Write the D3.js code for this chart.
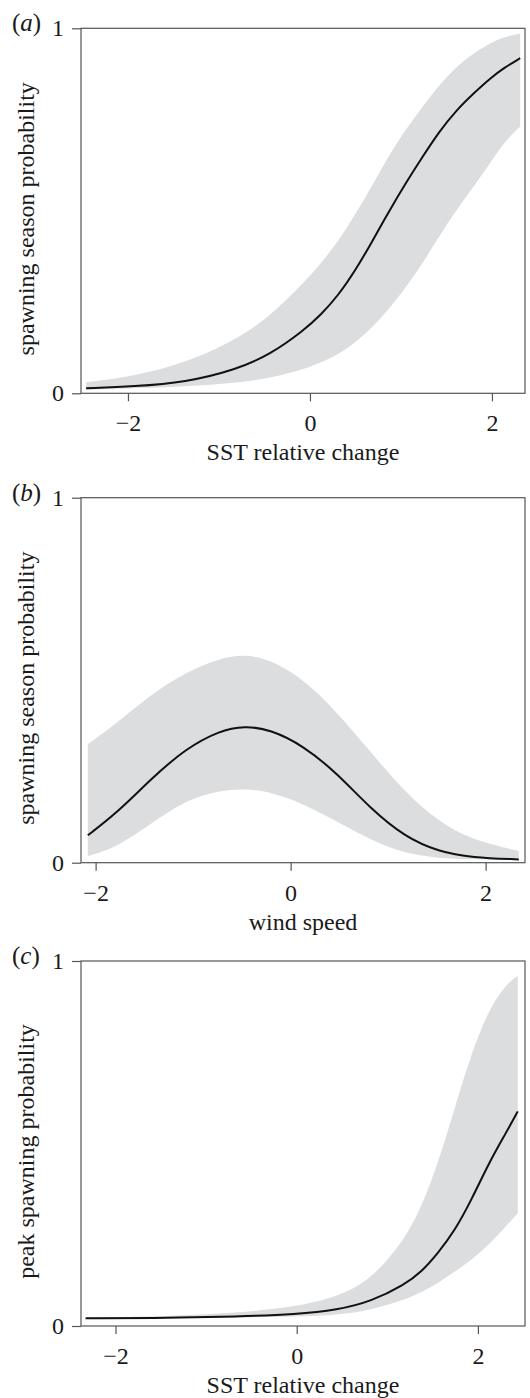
<!DOCTYPE html>
<html>
<head>
<meta charset="utf-8">
<script src="https://cdn.jsdelivr.net/npm/d3@7"></script>
<style>
  body { margin: 0; background: #fff; }
  svg text { font-family: "Liberation Serif", "Times New Roman", serif; fill: #1a1a1a; }
</style>
</head>
<body>
<svg id="chart" width="530" height="1398"></svg>
<script>
// Panel (a): spawning season probability vs SST relative change
var sstX = [-2.46, -1.93, -1.37, -0.81, -0.44, -0.07, 0.12, 0.31, 0.49, 0.68, 0.86, 1.05, 1.24, 1.42, 1.61, 1.80, 1.98, 2.14, 2.31];
var sstMean = [0.014, 0.019, 0.030, 0.065, 0.106, 0.172, 0.215, 0.268, 0.333, 0.414, 0.495, 0.575, 0.649, 0.717, 0.776, 0.822, 0.863, 0.893, 0.918];
var sstUpper = [0.030, 0.047, 0.083, 0.147, 0.211, 0.302, 0.356, 0.416, 0.487, 0.567, 0.649, 0.722, 0.786, 0.845, 0.895, 0.932, 0.959, 0.977, 0.986];
var sstLower = [0.010, 0.013, 0.019, 0.028, 0.042, 0.065, 0.085, 0.106, 0.138, 0.179, 0.229, 0.288, 0.357, 0.430, 0.503, 0.567, 0.630, 0.690, 0.731];

// Panel (b): spawning season probability vs wind speed
var windX = [-2.08, -1.77, -1.43, -1.08, -0.73, -0.47, -0.21, 0.13, 0.48, 0.82, 1.17, 1.52, 1.86, 2.34];
var windMean = [0.075, 0.139, 0.230, 0.312, 0.362, 0.375, 0.365, 0.321, 0.244, 0.148, 0.071, 0.030, 0.014, 0.009];
var windUpper = [0.325, 0.385, 0.462, 0.521, 0.560, 0.571, 0.557, 0.503, 0.412, 0.303, 0.194, 0.112, 0.062, 0.032];
var windLower = [0.018, 0.044, 0.107, 0.171, 0.198, 0.203, 0.194, 0.162, 0.112, 0.062, 0.025, 0.012, 0.009, 0.007];

// Panel (c): peak spawning probability vs SST relative change
var peakX = [-2.33, -1.41, -0.67, 0.00, 0.45, 0.82, 1.19, 1.38, 1.56, 1.75, 1.93, 2.12, 2.31, 2.44];
var peakMean = [0.021, 0.022, 0.026, 0.032, 0.044, 0.067, 0.113, 0.149, 0.200, 0.263, 0.346, 0.446, 0.529, 0.588];
var peakUpper = [0.023, 0.027, 0.035, 0.053, 0.080, 0.126, 0.236, 0.328, 0.446, 0.602, 0.748, 0.867, 0.936, 0.959];
var peakLower = [0.020, 0.021, 0.023, 0.026, 0.030, 0.044, 0.071, 0.094, 0.117, 0.150, 0.181, 0.222, 0.273, 0.309];

var xTicks = [-2, 0, 2];
var yTicks = [0, 1];
var panelLetters = ["a", "b", "c"];
var xTitles = ["SST relative change", "wind speed", "SST relative change"];
var yTitles = ["spawning season probability", "spawning season probability", "peak spawning probability"];

var panels = [
  { x: sstX, mean: sstMean, upper: sstUpper, lower: sstLower, domain: [-2.516, 2.363], top: 28.3 },
  { x: windX, mean: windMean, upper: windUpper, lower: windLower, domain: [-2.15, 2.404], top: 497.7 },
  { x: peakX, mean: peakMean, upper: peakUpper, lower: peakLower, domain: [-2.381, 2.52], top: 961 }
];

var left = 81, right = 525, plotH = 365;
var svg = d3.select("#chart");

panels.forEach(function(p, i) {
  var x = d3.scaleLinear().domain(p.domain).range([left, right]);
  var y = d3.scaleLinear().domain([0, 1]).range([p.top + plotH, p.top]);
  var pts = p.x.map(function(v, j) { return { x: v, m: p.mean[j], u: p.upper[j], l: p.lower[j] }; });

  var g = svg.append("g");

  // confidence band
  g.append("path")
    .datum(pts)
    .attr("fill", "#dcdddf")
    .attr("d", d3.area()
      .curve(d3.curveBasis)
      .x(d => x(d.x))
      .y0(d => y(d.l))
      .y1(d => y(d.u)));

  // fitted curve
  g.append("path")
    .datum(pts)
    .attr("fill", "none")
    .attr("stroke", "#111")
    .attr("stroke-width", 2)
    .attr("d", d3.line()
      .curve(d3.curveBasis)
      .x(d => x(d.x))
      .y(d => y(d.m)));

  // box
  g.append("rect")
    .attr("x", left).attr("y", p.top)
    .attr("width", right - left).attr("height", plotH)
    .attr("fill", "none")
    .attr("stroke", "#555")
    .attr("stroke-width", 1.2);

  var xAxis = g.append("g")
    .attr("transform", "translate(0," + (p.top + plotH) + ")")
    .call(d3.axisBottom(x).tickValues(xTicks).tickSize(8).tickPadding(13)
      .tickFormat(d => d < 0 ? "\u2212" + Math.abs(d) : d));
  xAxis.select(".domain").remove();

  var yAxis = g.append("g")
    .attr("transform", "translate(" + left + ",0)")
    .call(d3.axisLeft(y).tickValues(yTicks).tickSize(9).tickPadding(8).tickFormat(d3.format("d")));
  yAxis.select(".domain").remove();

  g.selectAll(".tick line").attr("stroke", "#555").attr("stroke-width", 1.2);
  g.selectAll(".tick text").style("font-size", "24px").attr("fill", "#1a1a1a");

  // axis titles
  g.append("text")
    .attr("x", (left + right) / 2)
    .attr("y", p.top + plotH + 67)
    .attr("text-anchor", "middle")
    .style("font-size", "24px")
    .text(xTitles[i]);

  g.append("text")
    .attr("transform", "translate(34," + (p.top + plotH / 2 + 8) + ") rotate(-90)")
    .attr("text-anchor", "middle")
    .style("font-size", "24px")
    .text(yTitles[i]);

  // panel letter
  var lab = g.append("text")
    .attr("x", 12)
    .attr("y", p.top + 3)
    .style("font-size", "25px");
  lab.append("tspan").text("(");
  lab.append("tspan").style("font-style", "italic").text(panelLetters[i]);
  lab.append("tspan").text(")");
});
</script>
</body>
</html>
